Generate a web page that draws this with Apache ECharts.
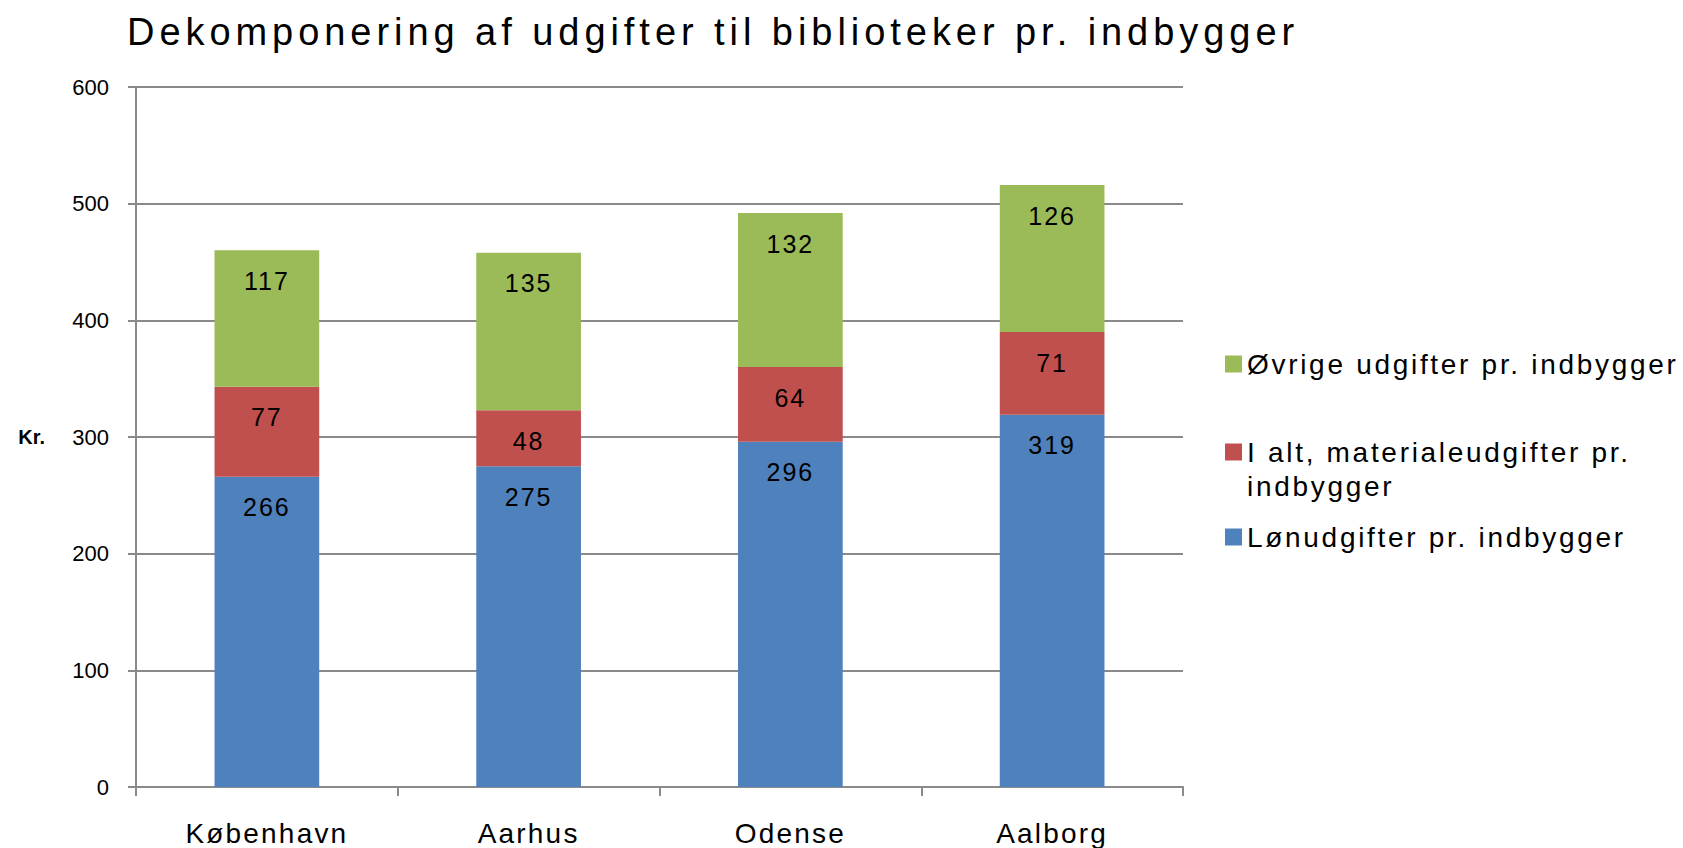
<!DOCTYPE html>
<html>
<head>
<meta charset="utf-8">
<script src="https://cdn.jsdelivr.net/npm/echarts@6/dist/echarts.min.js"></script>
<style>
  html, body { margin: 0; padding: 0; background: #fff; }
  #chart { width: 1683px; height: 848px; }
  #chart text[style*="25px"] { letter-spacing: 2px; }
  #chart text[style*="28px"] { letter-spacing: 2.2px; }
  #chart text[style*="28px"][style*="sans-serif"] { letter-spacing: 2.7px; }
  #chart text[style*="38px"] { letter-spacing: 4.95px; }
</style>
</head>
<body>
<div id="chart"></div>
<script>
const titleText = 'Dekomponering af udgifter til biblioteker pr. indbygger';
const categories = ['København', 'Aarhus', 'Odense', 'Aalborg'];
const seriesNames = ['Lønudgifter pr. indbygger', 'I alt, materialeudgifter pr. indbygger', 'Øvrige udgifter pr. indbygger'];
const lon = [266, 275, 296, 319];
const materiale = [77, 48, 64, 71];
const ovrige = [117, 135, 132, 126];
const yTicks = { min: 0, max: 600, interval: 100 };
const yName = 'Kr.';

const colors = ['#4F81BD', '#C0504D', '#9BBB59'];
const FONT = 'Liberation Sans';
const gridColor = '#8a8a8a';

function mkSeries(name, data, color) {
  return {
    name: name,
    type: 'bar',
    stack: 'total',
    barWidth: '40%',
    data: data,
    itemStyle: { color: color },
    label: {
      show: true,
      position: 'insideTop',
      distance: 18,
      color: '#000',
      fontFamily: FONT,
      fontSize: 25
    }
  };
}

const legendText = { fontFamily: "'Liberation Sans', sans-serif", fontSize: 28, color: '#000', lineHeight: 34 };
function mkLegend(name, top, extra) {
  return Object.assign({
    data: [name],
    left: 1225,
    top: top,
    padding: 0,
    itemWidth: 17,
    itemHeight: 17,
    selectedMode: false,
    icon: 'rect',
    textStyle: Object.assign({}, legendText)
  }, extra || {});
}

const chart = echarts.init(document.getElementById('chart'), null, { renderer: 'svg' });
chart.setOption({
  animation: false,
  color: colors,
  title: {
    text: titleText,
    left: 122,
    top: 8,
    textStyle: { fontFamily: FONT, fontSize: 38, fontWeight: 'normal', color: '#000' }
  },
  legend: [
    mkLegend(seriesNames[2], 347),
    mkLegend(seriesNames[1], 401, {
      formatter: function () { return '\nI alt, materialeudgifter pr.\nindbygger'; }
    }),
    mkLegend(seriesNames[0], 520)
  ],
  grid: { left: 136, right: 500, top: 87, bottom: 61, containLabel: false },
  xAxis: {
    type: 'category',
    data: categories,
    axisLine: { lineStyle: { color: gridColor, width: 2 } },
    axisTick: { show: true, length: 9, lineStyle: { color: gridColor, width: 2 } },
    axisLabel: { margin: 32, color: '#000', fontFamily: FONT, fontSize: 28 }
  },
  yAxis: {
    type: 'value',
    min: yTicks.min,
    max: yTicks.max,
    interval: yTicks.interval,
    name: yName,
    nameLocation: 'middle',
    nameRotate: 0,
    nameGap: 91,
    nameTextStyle: { fontFamily: FONT, fontSize: 20, fontWeight: 'bold', color: '#000' },
    axisLine: { show: true, lineStyle: { color: gridColor, width: 2 } },
    axisTick: { show: true, length: 8, lineStyle: { color: gridColor, width: 2 } },
    splitLine: { show: true, lineStyle: { color: gridColor, width: 2 } },
    axisLabel: { margin: 27, color: '#000', fontFamily: FONT, fontSize: 22 }
  },
  series: [
    mkSeries(seriesNames[0], lon, colors[0]),
    mkSeries(seriesNames[1], materiale, colors[1]),
    mkSeries(seriesNames[2], ovrige, colors[2])
  ]
});
</script>
</body>
</html>
